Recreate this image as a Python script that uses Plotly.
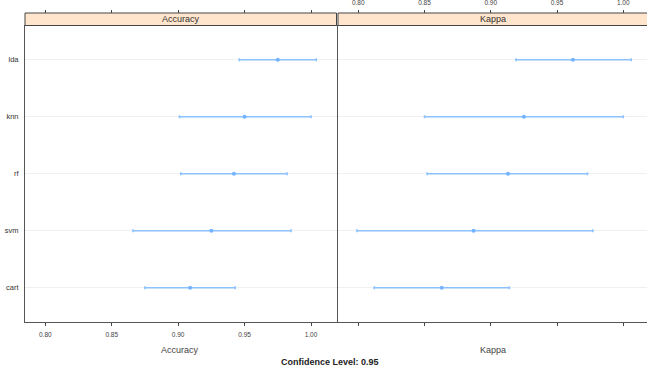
import plotly.graph_objects as go

models = ["lda", "knn", "rf", "svm", "cart"]
model_order = ["cart", "svm", "rf", "knn", "lda"]

acc_mean = [0.975, 0.950, 0.942, 0.925, 0.909]
acc_low = [0.946, 0.901, 0.902, 0.866, 0.875]
acc_high = [1.004, 1.000, 0.982, 0.985, 0.943]

kap_mean = [0.962, 0.925, 0.913, 0.887, 0.863]
kap_low = [0.919, 0.850, 0.852, 0.799, 0.812]
kap_high = [1.006, 1.000, 0.973, 0.977, 0.914]

x_ticks = [0.80, 0.85, 0.90, 0.95, 1.00]
x_ticktext = ["0.80", "0.85", "0.90", "0.95", "1.00"]

BAR = "#8cc2ff"
DOT = "#74b3ff"
FONT = "Liberation Sans, Arial, sans-serif"

W, H = 647, 369
ML, MR, MT, MB = 25, 0, 13, 47
PW, PH = W - ML - MR, H - MT - MB


def px_x(p):
    return (p - ML) / PW


def px_y(p):
    return (H - MB - p) / PH


ytop = px_y(25.5)
left_dom = [0, px_x(336.5)]
right_dom = [px_x(338), 1]

fig = go.Figure()


def add_panel(mean, low, high, xa, ya):
    fig.add_trace(go.Scatter(
        x=mean, y=models, xaxis=xa, yaxis=ya,
        mode="markers",
        marker=dict(color=DOT, size=4),
        error_x=dict(type="data", symmetric=False,
                     array=[h - m for h, m in zip(high, mean)],
                     arrayminus=[m - l for m, l in zip(mean, low)],
                     color=BAR, thickness=1.6, width=1.5),
        showlegend=False, hoverinfo="x+y",
    ))


add_panel(acc_mean, acc_low, acc_high, "x", "y")
add_panel(kap_mean, kap_low, kap_high, "x2", "y2")
# invisible traces to anchor the top tick axes
fig.add_trace(go.Scatter(x=acc_mean, y=models, xaxis="x3", yaxis="y", mode="markers",
                         marker=dict(opacity=0), showlegend=False, hoverinfo="skip"))
fig.add_trace(go.Scatter(x=kap_mean, y=models, xaxis="x4", yaxis="y2", mode="markers",
                         marker=dict(opacity=0), showlegend=False, hoverinfo="skip"))

left_range = [0.7847, 1.0192]
right_range = [0.7847, 1.0179]
tickfont = dict(family=FONT, size=6.5, color="#444444")
LINE = "#555555"

common_x = dict(tickmode="array", tickvals=x_ticks, ticktext=x_ticktext,
                showgrid=False, zeroline=False, ticks="outside", ticklen=3,
                tickcolor="#444444", tickwidth=1, tickfont=tickfont, automargin=False)

ycommon = dict(domain=[0, ytop], type="category", categoryorder="array",
               categoryarray=model_order, range=[-0.6, 4.6],
               showgrid=True, gridcolor="#f0f0f0", gridwidth=1,
               showline=True, linecolor=LINE, linewidth=1,
               ticks="", zeroline=False, automargin=False)

fig.update_layout(
    width=W, height=H,
    margin=dict(l=ML, r=MR, t=MT, b=MB, autoexpand=False),
    paper_bgcolor="white", plot_bgcolor="white",
    font=dict(family=FONT, color="#333333"),
    xaxis=dict(domain=left_dom, range=left_range, anchor="y",
               showline=True, mirror=True, linecolor=LINE, linewidth=1,
               showticklabels=True, ticklabelstandoff=3, **common_x),
    xaxis2=dict(domain=right_dom, range=right_range, anchor="y2",
                showline=True, mirror=True, linecolor=LINE, linewidth=1,
                showticklabels=False, **common_x),
    xaxis3=dict(overlaying="x", side="top", anchor="free", position=1,
                range=left_range, showline=False, showticklabels=False, **common_x),
    xaxis4=dict(overlaying="x2", side="top", anchor="free", position=1,
                range=right_range, showline=False, showticklabels=True,
                ticklabelstandoff=2, **common_x),
    yaxis=dict(anchor="x", mirror=True, ticklabelstandoff=4,
               tickfont=dict(family=FONT, size=7.5, color="#333333"), **ycommon),
    yaxis2=dict(anchor="x2", mirror=False, showticklabels=False, **ycommon),
)

# strips
for dom, label in [(left_dom, "Accuracy"), (right_dom, "Kappa")]:
    fig.add_shape(type="rect", xref="paper", yref="paper",
                  x0=dom[0], x1=dom[1] if dom[1] < 1 else 1.01, y0=ytop, y1=1,
                  fillcolor="#ffe5cc", line=dict(color="#444444", width=1), layer="above")
    fig.add_annotation(x=(dom[0] + dom[1]) / 2, y=(ytop + 1) / 2, xref="paper", yref="paper",
                       text=label, showarrow=False, xanchor="center", yanchor="middle",
                       font=dict(family=FONT, size=9, color="#333333"))

# axis titles
fig.add_annotation(x=px_x(180), y=px_y(350), xref="paper", yref="paper", text="Accuracy",
                   showarrow=False, xanchor="center", yanchor="middle",
                   font=dict(family=FONT, size=9, color="#444444"))
fig.add_annotation(x=px_x(493), y=px_y(350), xref="paper", yref="paper", text="Kappa",
                   showarrow=False, xanchor="center", yanchor="middle",
                   font=dict(family=FONT, size=9, color="#444444"))
fig.add_annotation(x=px_x(330), y=px_y(362), xref="paper", yref="paper",
                   text="<b>Confidence Level: 0.95</b>",
                   showarrow=False, xanchor="center", yanchor="middle",
                   font=dict(family=FONT, size=9, color="#222222"))

fig.write_html(
    "out.html",
    config={"displayModeBar": False},
    post_script="document.body.style.margin='0';document.body.style.overflow='hidden';",
)
